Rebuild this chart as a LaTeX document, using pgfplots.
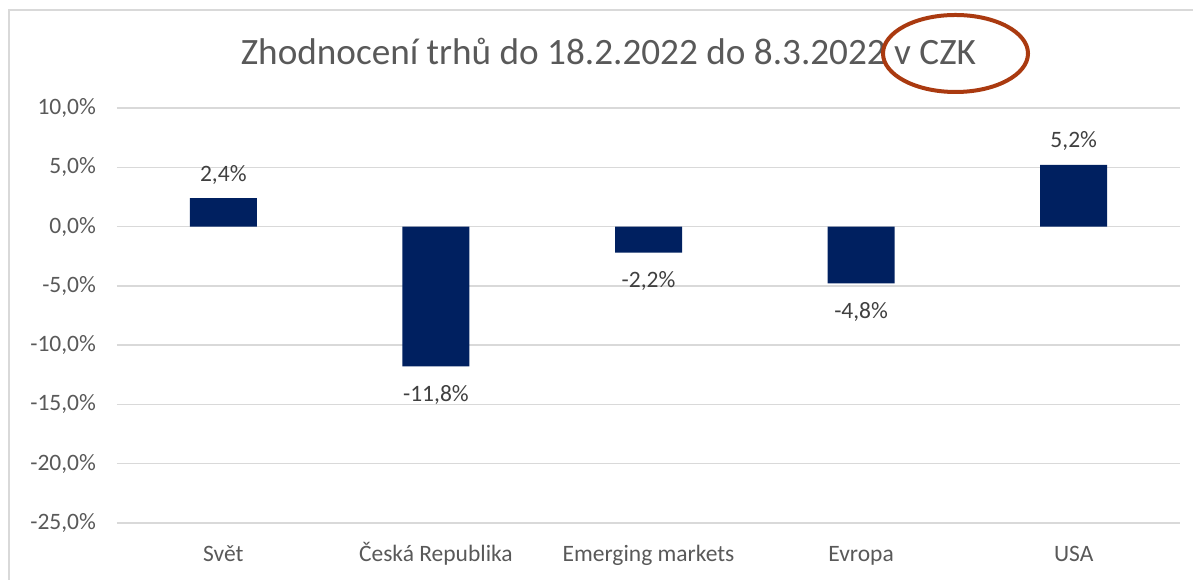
\documentclass[border=0pt]{standalone}
\usepackage{fontspec}
\setmainfont{Carlito}
\usepackage{pgfplots}
\pgfplotsset{compat=1.18}
\definecolor{navy}{RGB}{0,32,96}
\definecolor{gridgrey}{RGB}{217,217,217}
\definecolor{txtgrey}{RGB}{89,89,89}
\definecolor{lblgrey}{RGB}{64,64,64}
\definecolor{ringred}{RGB}{170,58,16}
\begin{document}
\begin{tikzpicture}
\begin{axis}[name=ax,
  scale only axis, width=531.5pt, height=207.5pt,
  ymin=-25, ymax=10, ytick={-25,-20,...,10},
  xmin=-0.5, xmax=4.5, xtick={0,1,2,3,4},
  xticklabels={Svět, Česká Republika, Emerging markets, Evropa, USA},
  axis line style={draw=none}, major tick length=0pt,
  ymajorgrids, grid style={gridgrey, line width=0.75pt},
  /pgf/number format/assume math mode=true,
  /pgf/number format/.cd, fixed, fixed zerofill, precision=1, use comma, /pgfplots/.cd,
  yticklabel={\pgfmathprintnumber{\tick}\%},
  ticklabel style={font=\fontsize{11.75}{14}\selectfont, text=txtgrey},
  yticklabel style={xshift=-7pt},
  xticklabel style={anchor=base, yshift=-19.5pt},
  ybar, bar width=33.5pt, bar shift=0pt,
  point meta=y,
  nodes near coords={\pgfmathprintnumber{\pgfplotspointmeta}\%},
  every node near coord/.append style={font=\fontsize{11.75}{14}\selectfont, text=lblgrey},
]
% kladne hodnoty
\addplot[fill=navy, draw=none, every node near coord/.append style={yshift=3.5pt}] coordinates {(0,2.4) (4,5.2)};
% zaporne hodnoty
\addplot[fill=navy, draw=none, every node near coord/.append style={yshift=-6pt}] coordinates {(1,-11.8) (2,-2.2) (3,-4.8)};
\end{axis}
% ramecek grafu (oriznuty vpravo a dole)
\draw[gridgrey, line width=0.75pt] ([xshift=-54pt,yshift=-40pt]ax.south west) -- ([xshift=-54pt,yshift=49pt]ax.north west) -- ([xshift=20pt,yshift=49pt]ax.north east);
\node[anchor=base, text=txtgrey, font=\fontsize{18.6}{22}\selectfont] at ([xshift=245.75pt,yshift=21.5pt]ax.north west) {Zhodnocení trhů do 18.2.2022 do 8.3.2022 v CZK};
\draw[ringred, line width=2pt] ([xshift=419.25pt,yshift=27.25pt]ax.north west) ellipse [x radius=36.25pt, y radius=19.25pt];
\pgfresetboundingbox
\path[use as bounding box] ([xshift=-58.5pt,yshift=-28.5pt]ax.south west) rectangle ([xshift=6.5pt,yshift=54pt]ax.north east);
\end{tikzpicture}
\end{document}
